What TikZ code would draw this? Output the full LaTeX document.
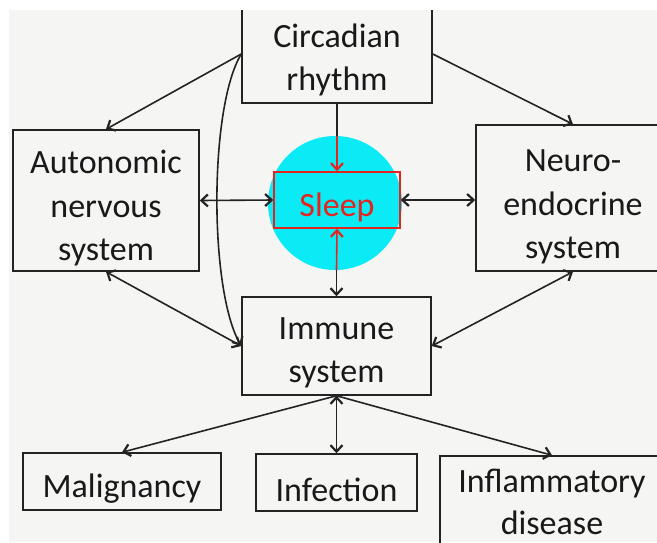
\documentclass[tikz,border=0pt]{standalone}
\usepackage{fontspec}
\setmainfont{Carlito}
\usetikzlibrary{arrows.meta,calc}
\definecolor{bgc}{RGB}{245,246,244}
\definecolor{linec}{RGB}{35,35,35}
\definecolor{textc}{RGB}{25,25,25}
\definecolor{glowc}{RGB}{10,235,245}
\definecolor{sleepred}{RGB}{228,36,30}
\tikzset{
  box/.style={draw=linec, line width=1.5pt, inner sep=0pt},
  txt/.style={inner sep=0pt, align=center, text=textc,
    font=\fontsize{34}{43.5}\selectfont},
  conn/.style={draw=linec, line width=1.6pt},
  tip/.tip={Straight Barb[length=6.5pt,width=12pt,line width=2.2pt]},
  oneway/.style={conn, -tip},
  twoway/.style={conn, tip-tip},
}
\begin{document}
\begin{tikzpicture}[x=1pt,y=-1pt]
\useasboundingbox (0,0) rectangle (657,542);
\clip (0,0) rectangle (657,542);
\fill[bgc] (0,0) rectangle (657,542);

\node[circle, fill=glowc, minimum size=134pt, inner sep=0pt] (glow) at (335,203) {};

% boxes
\node[box, minimum width=190pt, minimum height=98pt] (circ) at (337,54) {};
\node[box, minimum width=186pt, minimum height=141pt] (auto) at (106,200.5) {};
\node[box, minimum width=194pt, minimum height=146pt] (neuro) at (573,198) {};
\node[box, draw=sleepred, minimum width=126pt, minimum height=56pt] (sleep) at (337,200) {};
\node[box, minimum width=189pt, minimum height=98pt] (immune) at (336.5,346) {};
\node[box, minimum width=198pt, minimum height=57pt] (mal) at (122,481.5) {};
\node[box, minimum width=161pt, minimum height=57pt] (inf) at (336.5,482.5) {};
\node[box, minimum width=224pt, minimum height=106pt] (infl) at (552,509) {};

% texts
\node[txt] (circt) at ([yshift=-6pt]circ.center) {Circadian\\rhythm};
\node[txt] (autot) at ([yshift=-8pt]auto.center) {Autonomic\\nervous\\system};
\node[txt] (neurot) at ([yshift=-9pt]neuro.center) {Neuro-\\endocrine\\system};
\node[txt, text=sleepred] (sleept) at ([yshift=-7pt]sleep.center) {Sleep};
\node[txt] (immunet) at ([yshift=-7pt]immune.center) {Immune\\system};
\node[txt] (malt) at ([yshift=-7pt]mal.center) {Malignancy};
\node[txt] (inft) at ([yshift=-7pt]inf.center) {Infection};
\node[txt, font=\fontsize{34}{42}\selectfont] (inflt) at ([yshift=7pt]infl.center) {Inflammatory\\disease};

% circadian outputs
\draw[oneway] (circ.west) -- (auto.north);
\draw[oneway] (circ.east) -- (neuro.north);
\draw[oneway] (circ.west) .. controls (209,107) and (209,290) .. (immune.west);
\coordinate (gtop) at (circ.south |- glow.north);
\draw[conn] (circ.south) -- (gtop);
\draw[conn, draw=sleepred, -tip] (gtop) -- (sleep.north);

% sleep links
\draw[twoway] (auto.east) -- (sleep.west);
\draw[twoway] (sleep.east) -- (sleep.east -| neuro.west);
\coordinate (gbot) at (immune.north |- glow.south);
\draw[conn, draw=sleepred, tip-] (sleep.south) -- (gbot);
\draw[conn, -tip] (gbot) -- (immune.north);

% immune links
\draw[twoway] (auto.south) -- (immune.west);
\draw[twoway] (neuro.south) -- (immune.east);
\draw[oneway] (immune.south) -- (mal.north);
\draw[twoway] (immune.south) -- (inf.north);
\draw[oneway] (immune.south) -- (infl.north);

% white photo margins
\fill[white] (0,0) rectangle (657,10);
\fill[white] (0,0) rectangle (9,542);
\end{tikzpicture}
\end{document}
